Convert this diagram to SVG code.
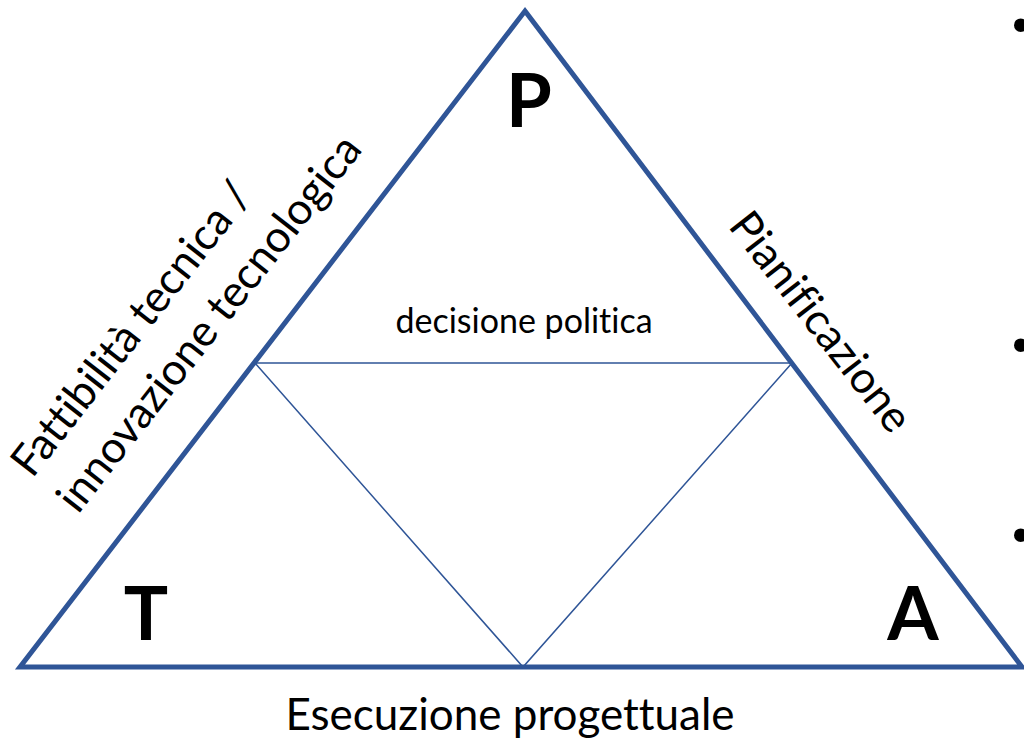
<svg xmlns="http://www.w3.org/2000/svg" width="1024" height="738" viewBox="0 0 1024 738">
<style>
.frame{fill:none;stroke:#2F5597;stroke-width:5;stroke-linejoin:miter}
.inner{fill:none;stroke:#2F5597;stroke-width:1.5}
text{font-variant-ligatures:none}
.big{font-family:Lato,"Liberation Sans",sans-serif;font-weight:bold;font-size:74px;fill:#000}
.lbl{font-family:Lato,"Liberation Sans",sans-serif;font-size:44px;fill:#000}
.sm{font-family:Lato,"Liberation Sans",sans-serif;font-size:34px;fill:#000}
.bul{font-family:"Liberation Sans",sans-serif;font-size:50px;fill:#000}
</style>
<rect width="1024" height="738" fill="#fff"/>
<g id="connectors">
<polygon class="frame" points="525,11 1022,667 20,667"/>
<polyline class="inner" points="255,363 792,363 523,667 255,363"/>
</g>
<g id="node-P"><text class="big" x="529" y="127" text-anchor="middle">P</text></g>
<g id="node-T"><text class="big" x="146" y="640" text-anchor="middle">T</text></g>
<g id="node-A"><text class="big" x="913" y="640" text-anchor="middle">A</text></g>
<g id="label-decisione"><text class="sm" x="524" y="333" text-anchor="middle">decisione politica</text></g>
<g id="label-esecuzione"><text class="lbl" x="510" y="730" text-anchor="middle">Esecuzione progettuale</text></g>
<g id="label-fattibilita"><text class="lbl" transform="translate(78,515) rotate(-52)"><tspan x="0" y="-58">Fattibilità tecnica /</tspan><tspan x="0" y="0">innovazione tecnologica</tspan></text></g>
<g id="label-pianificazione"><text class="lbl" transform="translate(809,331) rotate(52)" text-anchor="middle">Pianificazione</text></g>
<g id="bullets">
<text class="bul" x="1012" y="42">•</text>
<text class="bul" x="1012" y="362">•</text>
<text class="bul" x="1012" y="552">•</text>
</g>
</svg>
